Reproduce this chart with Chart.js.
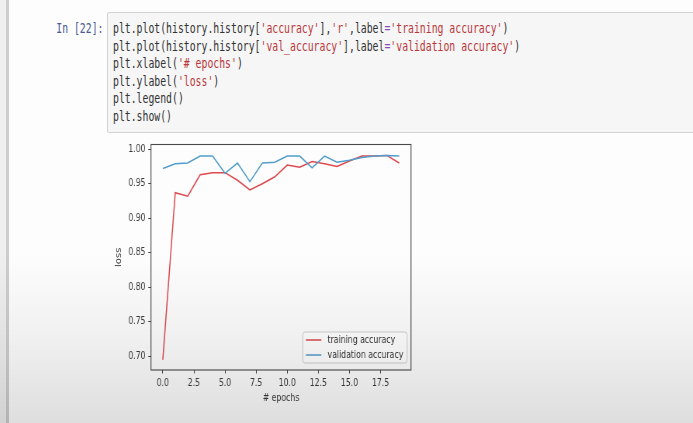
<!DOCTYPE html>
<html>
<head>
<meta charset="utf-8">
<script src="https://cdn.jsdelivr.net/npm/chart.js@4/dist/chart.umd.min.js"></script>
<style>
  html, body { margin: 0; padding: 0; }
  body {
    width: 693px; height: 423px; overflow: hidden; position: relative;
    background: #fdfdfd;
    font-family: "DejaVu Sans", sans-serif;
  }
  .side { position: absolute; left: 0; top: 0; width: 6px; height: 423px; background: #efefef; }
  .side-rule { position: absolute; left: 6px; top: 0; width: 3px; height: 423px; background: #cdcdcd; }
  .prompt {
    position: absolute; right: 590px; top: 20px;
    font: 14px/17.5px "DejaVu Sans Mono", "Liberation Mono", monospace;
    color: #4b5a94; white-space: pre;
    transform: scaleX(0.70); transform-origin: right top;
  }
  .cell {
    position: absolute; left: 107px; top: 12px; width: 600px; height: 119px;
    background: #f6f6f6; border: 1px solid #d2d2d2; border-radius: 2px;
  }
  .cell pre {
    position: absolute; left: 5px; top: 7px; margin: 0;
    font: 14px/17.5px "DejaVu Sans Mono", "Liberation Mono", monospace;
    color: #333;
    transform: scaleX(0.70); transform-origin: left top;
  }
  .s { color: #b9373a; }
  .o { color: #8a4bb8; }
  .fig {
    position: absolute; left: 100px; top: 135px;
    transform: scaleX(0.776); transform-origin: left top;
  }
  .shade {
    position: absolute; left: 0; top: 0; width: 693px; height: 423px; pointer-events: none;
    background: linear-gradient(to bottom, rgba(0,0,0,0) 0%, rgba(0,0,0,0) 60%, rgba(0,0,0,0.05) 80%, rgba(0,0,0,0.12) 100%);
  }
</style>
</head>
<body>
<div class="side"></div>
<div class="side-rule"></div>
<div class="prompt">In [22]:</div>
<div class="cell"><pre>plt.plot(history.history[<span class="s">'accuracy'</span>],<span class="s">'r'</span>,label<span class="o">=</span><span class="s">'training accuracy'</span>)
plt.plot(history.history[<span class="s">'val_accuracy'</span>],label<span class="o">=</span><span class="s">'validation accuracy'</span>)
plt.xlabel(<span class="s">'# epochs'</span>)
plt.ylabel(<span class="s">'loss'</span>)
plt.legend()
plt.show()</pre></div>
<div class="fig"><canvas id="chart" width="412" height="275"></canvas></div>
<div class="shade"></div>

<script>
// Per-epoch accuracy history
const epochs = [0, 1, 2, 3, 4, 5, 6, 7, 8, 9, 10, 11, 12, 13, 14, 15, 16, 17, 18, 19];
const trainingAccuracy = [0.695, 0.937, 0.932, 0.963, 0.966, 0.966, 0.955, 0.941, 0.950, 0.960,
                          0.977, 0.974, 0.982, 0.979, 0.975, 0.983, 0.990, 0.990, 0.991, 0.980];
const validationAccuracy = [0.972, 0.979, 0.980, 0.990, 0.990, 0.965, 0.980, 0.953, 0.980, 0.981,
                            0.990, 0.990, 0.973, 0.990, 0.981, 0.984, 0.988, 0.990, 0.991, 0.990];
const seriesLabels = ['training accuracy', 'validation accuracy'];
const xTickValues = [0, 2.5, 5, 7.5, 10, 12.5, 15, 17.5];
const yTickValues = [0.70, 0.75, 0.80, 0.85, 0.90, 0.95, 1.00];
const xLimits = [-0.95, 19.95];
const yLimits = [0.6802, 1.0068];
const xTitle = '# epochs';
const yTitle = 'loss';

const toPoints = (vals) => vals.map((v, i) => ({ x: epochs[i], y: v }));

// Frame on all four sides of the plot area
const frame = {
  id: 'frame',
  afterDatasetsDraw(chart) {
    const { ctx, chartArea: a } = chart;
    ctx.save();
    ctx.strokeStyle = '#4a4a4a';
    ctx.lineWidth = 1.1;
    ctx.strokeRect(a.left, a.top, a.right - a.left, a.bottom - a.top);
    ctx.restore();
  }
};

// Legend box in the lower right corner of the plot area
const cornerLegend = {
  id: 'cornerLegend',
  afterDraw(chart) {
    const { ctx, chartArea: a } = chart;
    const fs = 10, pad = 4, handle = 20, gap = 8, row = 15;
    ctx.save();
    ctx.font = fs + 'px "DejaVu Sans", sans-serif';
    const tw = Math.max(...seriesLabels.map(t => ctx.measureText(t).width));
    const w = pad + handle + gap + tw + pad + 1;
    const h = 31;
    const x = a.right - 5 - w;
    const y = a.bottom - 7 - h;
    ctx.beginPath();
    ctx.roundRect(x, y, w, h, 3);
    ctx.fillStyle = 'rgba(255,255,255,0.85)';
    ctx.fill();
    ctx.strokeStyle = '#cfcfcf';
    ctx.lineWidth = 1;
    ctx.stroke();
    chart.data.datasets.forEach((ds, i) => {
      const cy = y + 8 + i * row;
      ctx.strokeStyle = ds.borderColor;
      ctx.lineWidth = ds.borderWidth;
      ctx.beginPath();
      ctx.moveTo(x + pad, cy);
      ctx.lineTo(x + pad + handle, cy);
      ctx.stroke();
      ctx.fillStyle = '#333';
      ctx.textBaseline = 'middle';
      ctx.textAlign = 'left';
      ctx.fillText(ds.label, x + pad + handle + gap, cy + 0.5);
    });
    ctx.restore();
  }
};

Chart.defaults.font.family = '"DejaVu Sans", sans-serif';
Chart.defaults.font.size = 10;
Chart.defaults.color = '#3a3a3a';

new Chart(document.getElementById('chart'), {
  type: 'line',
  data: {
    datasets: [
      { label: seriesLabels[0], data: toPoints(trainingAccuracy), borderColor: '#dc4a4f',
        borderWidth: 1.5, pointRadius: 0, tension: 0, order: 1 },
      { label: seriesLabels[1], data: toPoints(validationAccuracy), borderColor: '#529dc8',
        borderWidth: 1.5, pointRadius: 0, tension: 0, order: 0 }
    ]
  },
  options: {
    responsive: false,
    animation: false,
    devicePixelRatio: 1,
    layout: { padding: { top: 9, right: 11.2, bottom: 0, left: 0 } },
    plugins: { legend: { display: false }, tooltip: { enabled: false } },
    scales: {
      x: {
        type: 'linear', min: xLimits[0], max: xLimits[1],
        afterBuildTicks: (s) => { s.ticks = xTickValues.map(v => ({ value: v })); },
        afterFit: (s) => { s.height = 40; },
        ticks: { padding: 3.5, maxRotation: 0, autoSkip: false, callback: (v) => v.toFixed(1) },
        grid: { drawOnChartArea: false, drawTicks: true, tickLength: 3.5, tickColor: '#4a4a4a' },
        border: { display: false },
        title: { display: true, text: xTitle, padding: { top: 0, bottom: 6 } }
      },
      y: {
        min: yLimits[0], max: yLimits[1],
        afterBuildTicks: (s) => { s.ticks = yTickValues.map(v => ({ value: v })); },
        afterFit: (s) => { s.width = 65.7; },
        ticks: { padding: 3.5, autoSkip: false, callback: (v) => v.toFixed(2) },
        grid: { drawOnChartArea: false, drawTicks: true, tickLength: 3.5, tickColor: '#4a4a4a' },
        border: { display: false },
        title: { display: true, text: yTitle, padding: { top: 18.5, bottom: 0 } }
      }
    }
  },
  plugins: [frame, cornerLegend]
});
</script>
</body>
</html>
